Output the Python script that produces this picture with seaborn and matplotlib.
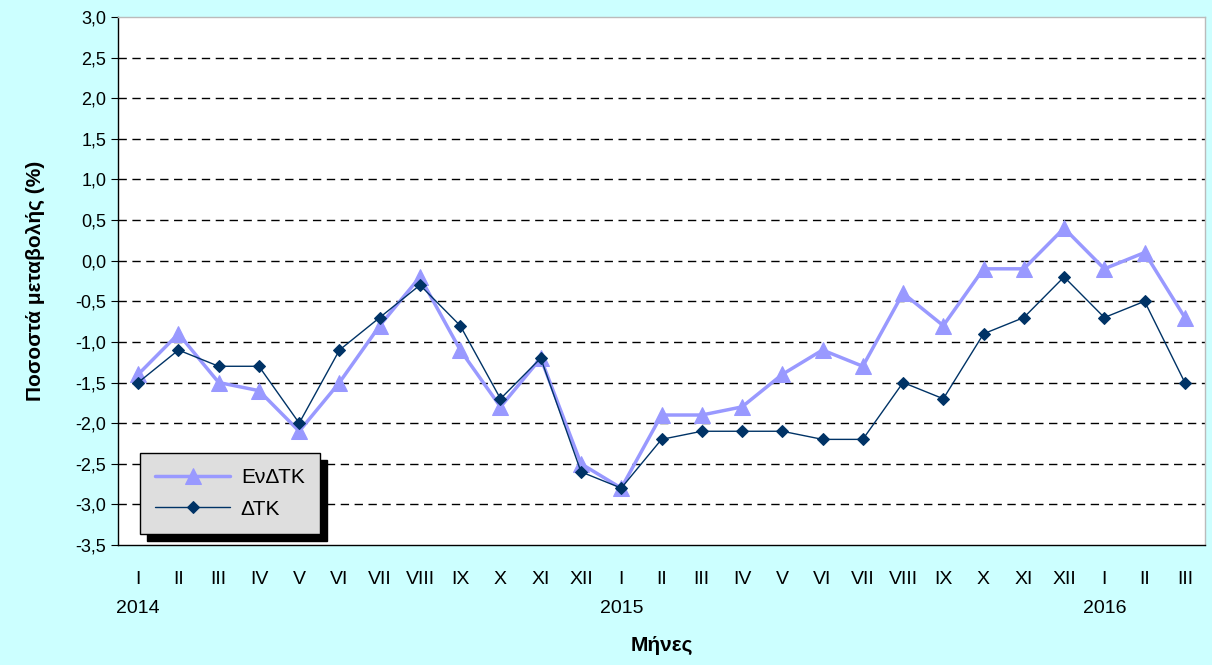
"""
Μηνιαία ποσοστά μεταβολής ΕνΔΤΚ / ΔΤΚ (2014-2016)
"""
import matplotlib
matplotlib.use('Agg')
import matplotlib.pyplot as plt
import matplotlib.transforms as mtransforms
import seaborn as sns
import pandas as pd
import numpy as np

# Δεδομένα
months = ['I', 'II', 'III', 'IV', 'V', 'VI', 'VII', 'VIII', 'IX', 'X', 'XI', 'XII',
          'I', 'II', 'III', 'IV', 'V', 'VI', 'VII', 'VIII', 'IX', 'X', 'XI', 'XII',
          'I', 'II', 'III']
years = ['2014', '2015', '2016']
year_start = [0, 12, 24]
endtk = [-1.4, -0.9, -1.5, -1.6, -2.1, -1.5, -0.8, -0.2, -1.1, -1.8, -1.2, -2.5,
         -2.8, -1.9, -1.9, -1.8, -1.4, -1.1, -1.3, -0.4, -0.8, -0.1, -0.1, 0.4,
         -0.1, 0.1, -0.7]
dtk = [-1.5, -1.1, -1.3, -1.3, -2.0, -1.1, -0.7, -0.3, -0.8, -1.7, -1.2, -2.6,
       -2.8, -2.2, -2.1, -2.1, -2.1, -2.2, -2.2, -1.5, -1.7, -0.9, -0.7, -0.2,
       -0.7, -0.5, -1.5]
y_ticks = [-3.5, -3.0, -2.5, -2.0, -1.5, -1.0, -0.5, 0.0, 0.5, 1.0, 1.5, 2.0, 2.5, 3.0]

sns.set_style('white')
plt.rcParams['font.family'] = ['Liberation Sans', 'DejaVu Sans']
plt.rcParams['text.color'] = 'black'
plt.rcParams['axes.labelcolor'] = 'black'
plt.rcParams['xtick.color'] = 'black'
plt.rcParams['ytick.color'] = 'black'

df = pd.DataFrame({'idx': np.arange(len(months)), 'ΕνΔΤΚ': endtk, 'ΔΤΚ': dtk})

fig = plt.figure(figsize=(12.12, 6.65), dpi=100, facecolor='#CCFFFF')
ax = fig.add_axes([0.0974, 0.1805, 0.8968, 0.7939])
ax.set_facecolor('white')

sns.lineplot(data=df, x='idx', y='ΕνΔΤΚ', ax=ax, color='#9999FF', linewidth=2.5,
             marker='^', markersize=11, markeredgecolor='#9999FF', label='ΕνΔΤΚ')
sns.lineplot(data=df, x='idx', y='ΔΤΚ', ax=ax, color='#003366', linewidth=1,
             marker='D', markersize=6, markeredgecolor='#003366', label='ΔΤΚ')

ax.set_xlim(-0.5, len(months) - 0.5)
ax.set_ylim(-3.5, 3.0)
ax.set_yticks(y_ticks)
ax.set_yticklabels([f'{v:.1f}'.replace('.', ',') for v in y_ticks], fontsize=13)
for v in y_ticks[1:-1]:
    ax.axhline(v, color='black', linestyle=(0, (6, 4)), linewidth=1, zorder=0)

ax.set_xticks(np.arange(len(months)))
ax.set_xticklabels(months, fontsize=14)
ax.set_xticks(np.arange(len(months) + 1) - 0.5, minor=True)
ax.tick_params(axis='x', which='major', length=0, pad=19)
ax.tick_params(axis='x', which='minor', length=5, direction='out', color='black')
ax.tick_params(axis='y', length=5, direction='out', color='black', left=True)

# années sous les mois
trans = mtransforms.blended_transform_factory(ax.transData, ax.transAxes)
for yr, pos in zip(years, year_start):
    ax.text(pos, -0.12, yr, transform=trans, ha='center', va='center', fontsize=14)

for side in ['top', 'right']:
    ax.spines[side].set_color('#BBBBBB')
    ax.spines[side].set_linewidth(1)
for side in ['left', 'bottom']:
    ax.spines[side].set_color('black')
    ax.spines[side].set_linewidth(1)

ax.set_xlabel('Μήνες', fontsize=15, fontweight='bold')
ax.xaxis.set_label_coords(0.5, -0.172)
ax.set_ylabel('Ποσοστά μεταβολής (%)', fontsize=15, fontweight='bold')
ax.yaxis.set_label_coords(-0.067, 0.5)

leg = ax.legend(loc='lower left', bbox_to_anchor=(0.02, 0.02), borderaxespad=0,
                fontsize=15, frameon=True, fancybox=False,
                shadow={'color': 'black', 'alpha': 1, 'ox': 5, 'oy': -5},
                handlelength=3.6, borderpad=0.75, labelspacing=0.6,
                handletextpad=0.5)
leg.get_frame().set_facecolor('#DEDEDE')
leg.get_frame().set_edgecolor('black')
leg.get_frame().set_alpha(1)

fig.savefig('out.png', dpi=100, facecolor=fig.get_facecolor())
